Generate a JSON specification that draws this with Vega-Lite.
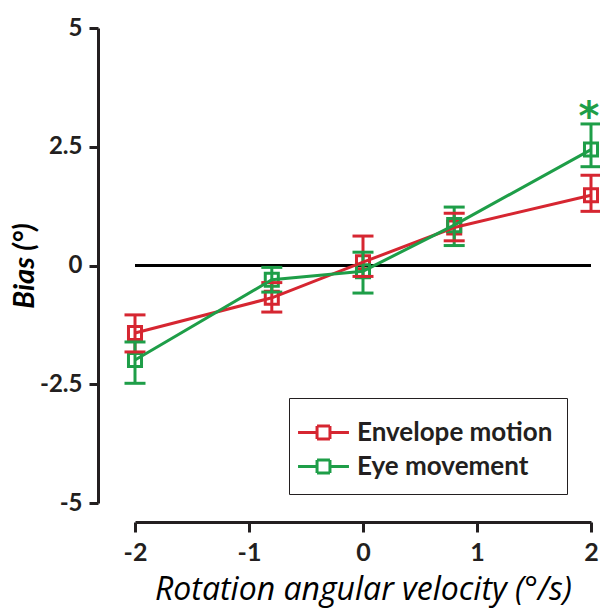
{
  "$schema": "https://vega.github.io/schema/vega-lite/v6.json",
  "width": 456,
  "height": 475,
  "autosize": {"type": "none"},
  "padding": {"left": 135, "top": 28, "right": 9, "bottom": 109},
  "background": "white",
  "config": {
    "view": {"stroke": null},
    "font": "Lato",
    "axis": {
      "grid": false,
      "domainWidth": 3,
      "domainColor": "#231f20",
      "tickWidth": 3,
      "tickColor": "#231f20",
      "labelFont": "Lato",
      "labelFontSize": 25,
      "labelFontWeight": "bold",
      "labelColor": "#231f20",
      "titleColor": "#000000"
    }
  },
  "data": {
    "values": [
      {"condition": "Envelope motion", "velocity": -2, "mean": -1.42, "lower": -1.82, "upper": -1.04},
      {"condition": "Envelope motion", "velocity": -0.8, "mean": -0.68, "lower": -0.98, "upper": -0.36},
      {"condition": "Envelope motion", "velocity": 0, "mean": 0.07, "lower": -0.23, "upper": 0.62},
      {"condition": "Envelope motion", "velocity": 0.8, "mean": 0.8, "lower": 0.52, "upper": 1.1},
      {"condition": "Envelope motion", "velocity": 2, "mean": 1.48, "lower": 1.14, "upper": 1.9},
      {"condition": "Eye movement", "velocity": -2, "mean": -1.99, "lower": -2.48, "upper": -1.61},
      {"condition": "Eye movement", "velocity": -0.8, "mean": -0.3, "lower": -0.56, "upper": -0.04},
      {"condition": "Eye movement", "velocity": 0, "mean": -0.12, "lower": -0.58, "upper": 0.28},
      {"condition": "Eye movement", "velocity": 0.8, "mean": 0.85, "lower": 0.42, "upper": 1.23},
      {"condition": "Eye movement", "velocity": 2, "mean": 2.44, "lower": 2.08, "upper": 2.98}
    ]
  },
  "encoding": {
    "x": {
      "field": "velocity",
      "type": "quantitative",
      "scale": {"domain": [-2, 2], "nice": false, "zero": false},
      "axis": {
        "values": [-2, -1, 0, 1, 2],
        "offset": 19,
        "tickSize": 10,
        "labelPadding": 8,
        "labelFlush": false,
        "labelExpr": "toString(datum.value)",
        "title": "Rotation angular velocity (°/s)",
        "titleFont": "Open Sans",
        "titleFontSize": 32,
        "titleFontStyle": "italic",
        "titleFontWeight": 500,
        "titlePadding": 9
      }
    },
    "color": {
      "field": "condition",
      "type": "nominal",
      "scale": {"domain": ["Envelope motion", "Eye movement"], "range": ["#d62631", "#1e9e48"]},
      "legend": {
        "orient": "none",
        "legendX": 154,
        "legendY": 370,
        "title": null,
        "symbolType": "M-1.34,0H-0.34M0.34,0H1.34M-0.34,-0.34H0.34M0.34,-0.34V0.34M0.34,0.34H-0.34M-0.34,0.34V-0.34",
        "symbolSize": 1444,
        "symbolStrokeWidth": 3,
        "symbolOpacity": 1,
        "symbolFillColor": "transparent",
        "labelFontSize": 26,
        "labelFontWeight": "bold",
        "labelColor": "#231f20",
        "labelLimit": 600,
        "labelOffset": 13,
        "rowPadding": -1,
        "padding": 14,
        "strokeColor": "#231f20",
        "fillColor": "white",
        "encode": {
          "legend": {"strokeWidth": {"value": 3}}
        }
      }
    }
  },
  "layer": [
    {
      "mark": {"type": "rule", "strokeWidth": 2.5, "color": "#000000"},
      "encoding": {
        "x": null,
        "color": null,
        "y": {
          "datum": 0,
          "type": "quantitative",
          "scale": {"domain": [-5, 5], "nice": false, "zero": false},
          "axis": {
            "values": [-5, -2.5, 0, 2.5, 5],
            "offset": 37,
            "tickSize": 9,
            "labelPadding": 7,
            "labelFontSize": 24,
            "labelExpr": "toString(datum.value)",
            "title": "Bias (°)",
            "titleFont": "Lato",
            "titleFontSize": 29,
            "titleFontStyle": "italic",
            "titleFontWeight": "bold",
            "titlePadding": 0
          }
        }
      }
    },
    {
      "mark": {"type": "point", "shape": "square", "filled": false, "size": 170, "strokeWidth": 3, "opacity": 1},
      "encoding": {"y": {"field": "mean", "type": "quantitative"}}
    },
    {
      "mark": {"type": "rule", "strokeWidth": 3, "opacity": 1},
      "encoding": {
        "y": {"field": "lower", "type": "quantitative"},
        "y2": {"field": "upper"}
      }
    },
    {
      "mark": {"type": "point", "shape": "M-1,0H1", "filled": false, "size": 441, "strokeWidth": 3, "opacity": 1},
      "encoding": {"y": {"field": "lower", "type": "quantitative"}}
    },
    {
      "mark": {"type": "point", "shape": "M-1,0H1", "filled": false, "size": 441, "strokeWidth": 3, "opacity": 1},
      "encoding": {"y": {"field": "upper", "type": "quantitative"}}
    },
    {
      "mark": {"type": "line", "strokeWidth": 3},
      "encoding": {"y": {"field": "mean", "type": "quantitative"}}
    },
    {
      "transform": [{"filter": "datum.condition === 'Eye movement' && datum.velocity === 2"}],
      "mark": {"type": "text", "text": "*", "font": "DejaVu Sans", "fontSize": 40, "fontWeight": "bold", "baseline": "alphabetic", "align": "center", "dx": -2, "dy": 6},
      "encoding": {"y": {"field": "upper", "type": "quantitative"}}
    }
  ]
}
